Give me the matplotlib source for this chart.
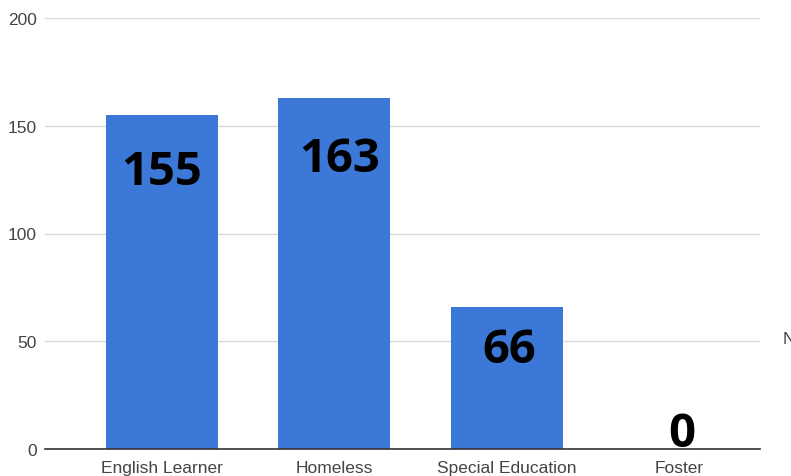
import matplotlib.pyplot as plt

# 数据
categories = ['English Learner', 'Homeless', 'Special Education', 'Foster']
counts = [155, 163, 66, 0]
y_ticks = [0, 50, 100, 150, 200]

# 数值标签基线相对柱顶的偏移（像素）
label_dx = [0, 5, 3, 3]
label_dy = [-69, -73, -55, 3]

W, H = 791, 477
fig = plt.figure(figsize=(W / 100, H / 100), dpi=100)
ax = fig.add_axes([45 / W, 27 / H, 715 / W, 431 / H])

x = range(len(categories))
ax.bar(x, counts, width=0.65, color='#3c78d8', zorder=3)

ax.set_xlim(-0.678, 3.47)
ax.set_ylim(0, 200)
ax.set_yticks(y_ticks)
ax.set_xticks(list(x))
ax.set_xticklabels(categories)

for s in ['top', 'right', 'left']:
    ax.spines[s].set_visible(False)
ax.spines['bottom'].set_color('#333333')
ax.spines['bottom'].set_linewidth(1.2)
ax.spines['bottom'].set_zorder(4)

ax.grid(axis='y', color='#d9d9d9', linewidth=1, zorder=0)
ax.tick_params(axis='both', length=0, labelsize=12.5, labelcolor='#444444',
               labelfontfamily='Liberation Sans')
ax.tick_params(axis='y', pad=6)
ax.tick_params(axis='x', pad=8)

# 柱上的数值
for i, v in enumerate(counts):
    ax.annotate(str(v), xy=(i, v), xytext=(label_dx[i] * 0.72, label_dy[i] * 0.72),
                textcoords='offset points', ha='center', va='baseline',
                fontsize=34, fontweight='bold', family='Open Sans',
                color='black', zorder=5)

# 右侧被截断的图例文字
fig.text(783 / W, 1 - 340 / H, 'N', fontsize=12.5, color='#444444',
         family='Liberation Sans', va='center', ha='left')

fig.savefig('out.png', dpi=100)
